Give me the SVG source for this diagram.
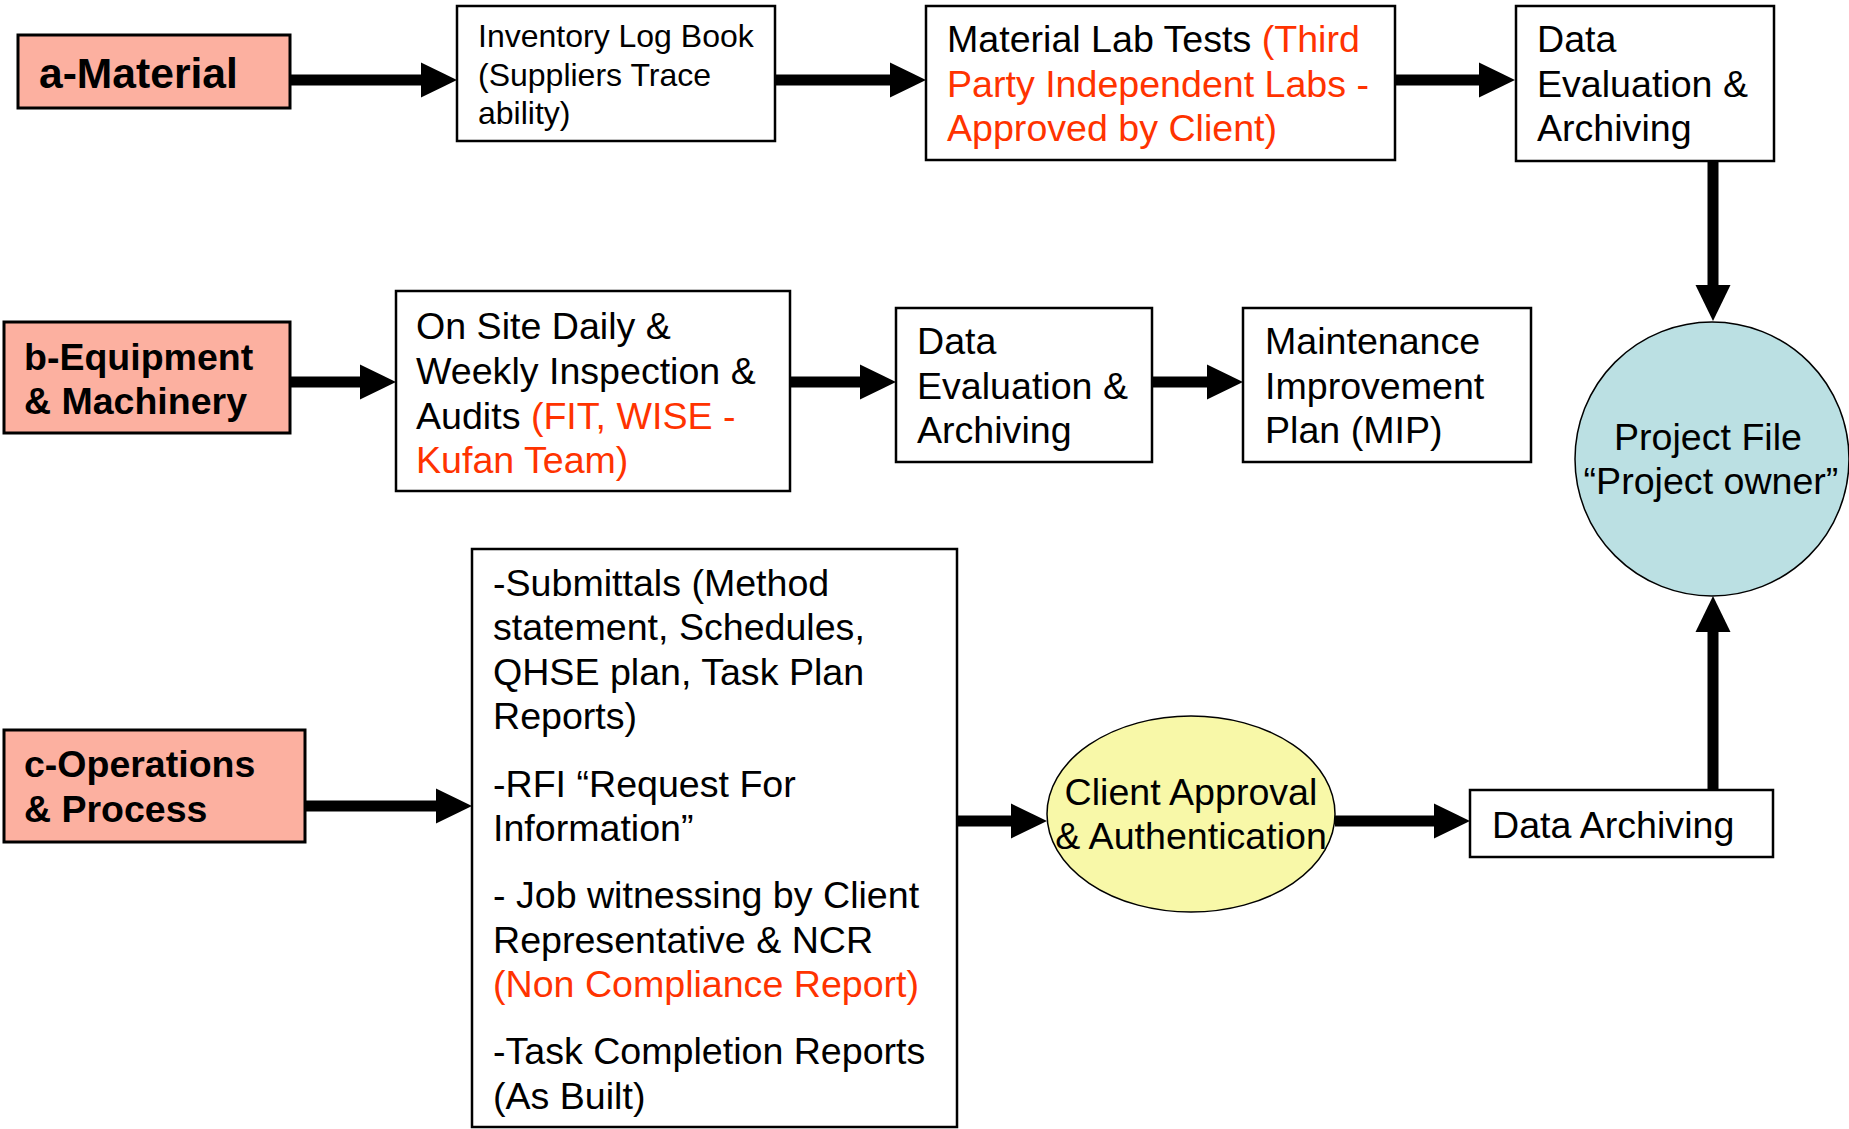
<svg xmlns="http://www.w3.org/2000/svg" width="1849" height="1129" viewBox="0 0 1849 1129">
  <style>
    text { font-family: "Liberation Sans", Arial, sans-serif; fill: #000; }
    .src rect { fill: #FCB0A0; stroke: #000; stroke-width: 3; }
    .src text { font-weight: bold; font-size: 37.5px; }
    .box rect { fill: #fff; stroke: #000; stroke-width: 2.5; }
    .t32 { font-size: 32px; }
    .t37 { font-size: 37.6px; }
    .red { fill: #FF3300; }
    .mid { text-anchor: middle; }
    .conn line { stroke: #000; stroke-width: 11; }
  </style>
  <defs>
    <marker id="head" markerUnits="userSpaceOnUse" markerWidth="36" markerHeight="36" refX="16" refY="17.5" orient="auto" viewBox="0 0 36 35">
      <path d="M0,0 L36,17.5 L0,35 z" fill="#000"/>
    </marker>
  </defs>
  <rect width="1849" height="1129" fill="#fff"/>

  <!-- connectors -->
  <g id="connectors" class="conn">
    <line x1="290" y1="80" x2="437" y2="80" marker-end="url(#head)"/>
    <line x1="775" y1="80" x2="906" y2="80" marker-end="url(#head)"/>
    <line x1="1395" y1="80" x2="1495" y2="80" marker-end="url(#head)"/>
    <line x1="1713" y1="161" x2="1713" y2="301" marker-end="url(#head)"/>
    <line x1="290" y1="382" x2="376" y2="382" marker-end="url(#head)"/>
    <line x1="790" y1="382" x2="876" y2="382" marker-end="url(#head)"/>
    <line x1="1152" y1="382" x2="1223" y2="382" marker-end="url(#head)"/>
    <line x1="305" y1="806" x2="452" y2="806" marker-end="url(#head)"/>
    <line x1="957" y1="821" x2="1027" y2="821" marker-end="url(#head)"/>
    <line x1="1335" y1="821" x2="1450" y2="821" marker-end="url(#head)"/>
    <line x1="1713" y1="790" x2="1713" y2="616" marker-end="url(#head)"/>
  </g>

  <!-- row a: material -->
  <g id="a-material" class="src">
    <rect x="18" y="35" width="272" height="73"/>
    <text x="39" y="88" style="font-size:42.6px">a-Material</text>
  </g>
  <g id="inventory-log" class="box">
    <rect x="457" y="6" width="318" height="135"/>
    <text class="t32" x="478" y="47">Inventory Log Book</text>
    <text class="t32" x="478" y="86">(Suppliers Trace</text>
    <text class="t32" x="478" y="124">ability)</text>
  </g>
  <g id="material-lab-tests" class="box">
    <rect x="926" y="6" width="469" height="154"/>
    <text class="t37" x="947" y="52">Material Lab Tests <tspan class="red">(Third</tspan></text>
    <text class="t37 red" x="947" y="97">Party Independent Labs -</text>
    <text class="t37 red" x="947" y="141">Approved by Client)</text>
  </g>
  <g id="data-evaluation-a" class="box">
    <rect x="1516" y="6" width="258" height="155"/>
    <text class="t37" x="1537" y="52">Data</text>
    <text class="t37" x="1537" y="97">Evaluation &amp;</text>
    <text class="t37" x="1537" y="141">Archiving</text>
  </g>

  <!-- project file -->
  <g id="project-file">
    <circle cx="1712" cy="459" r="137" fill="#BBE0E3" stroke="#000" stroke-width="1.5"/>
    <text class="t37 mid" x="1708" y="450">Project File</text>
    <text class="t37 mid" x="1711" y="494">“Project owner”</text>
  </g>

  <!-- row b: equipment -->
  <g id="b-equipment" class="src">
    <rect x="4" y="322" width="286" height="111"/>
    <text x="24" y="370">b-Equipment</text>
    <text x="24" y="414">&amp; Machinery</text>
  </g>
  <g id="on-site-inspection" class="box">
    <rect x="396" y="291" width="394" height="200"/>
    <text class="t37" x="416" y="339">On Site Daily &amp;</text>
    <text class="t37" x="416" y="384">Weekly Inspection &amp;</text>
    <text class="t37" x="416" y="429">Audits <tspan class="red">(FIT, WISE -</tspan></text>
    <text class="t37 red" x="416" y="473">Kufan Team)</text>
  </g>
  <g id="data-evaluation-b" class="box">
    <rect x="896" y="308" width="256" height="154"/>
    <text class="t37" x="917" y="354">Data</text>
    <text class="t37" x="917" y="399">Evaluation &amp;</text>
    <text class="t37" x="917" y="443">Archiving</text>
  </g>
  <g id="maintenance-plan" class="box">
    <rect x="1243" y="308" width="288" height="154"/>
    <text class="t37" x="1265" y="354">Maintenance</text>
    <text class="t37" x="1265" y="399">Improvement</text>
    <text class="t37" x="1265" y="443">Plan (MIP)</text>
  </g>

  <!-- row c: operations -->
  <g id="c-operations" class="src">
    <rect x="4" y="730" width="301" height="112"/>
    <text x="24" y="777">c-Operations</text>
    <text x="24" y="822">&amp; Process</text>
  </g>
  <g id="submittals" class="box">
    <rect x="472" y="549" width="485" height="578"/>
    <text class="t37" x="493" y="596">-Submittals (Method</text>
    <text class="t37" x="493" y="640">statement, Schedules,</text>
    <text class="t37" x="493" y="685">QHSE plan, Task Plan</text>
    <text class="t37" x="493" y="729">Reports)</text>
    <text class="t37" x="493" y="797">-RFI “Request For</text>
    <text class="t37" x="493" y="841">Information”</text>
    <text class="t37" x="493" y="908">- Job witnessing by Client</text>
    <text class="t37" x="493" y="953">Representative &amp; NCR</text>
    <text class="t37 red" x="493" y="997">(Non Compliance Report)</text>
    <text class="t37" x="493" y="1064">-Task Completion Reports</text>
    <text class="t37" x="493" y="1109">(As Built)</text>
  </g>
  <g id="client-approval">
    <ellipse cx="1191" cy="814" rx="144" ry="98" fill="#F8F8A8" stroke="#000" stroke-width="1.5"/>
    <text class="t37 mid" x="1191" y="805">Client Approval</text>
    <text class="t37 mid" x="1191" y="849">&amp; Authentication</text>
  </g>
  <g id="data-archiving" class="box">
    <rect x="1470" y="790" width="303" height="67"/>
    <text class="t37" x="1492" y="838">Data Archiving</text>
  </g>
</svg>
